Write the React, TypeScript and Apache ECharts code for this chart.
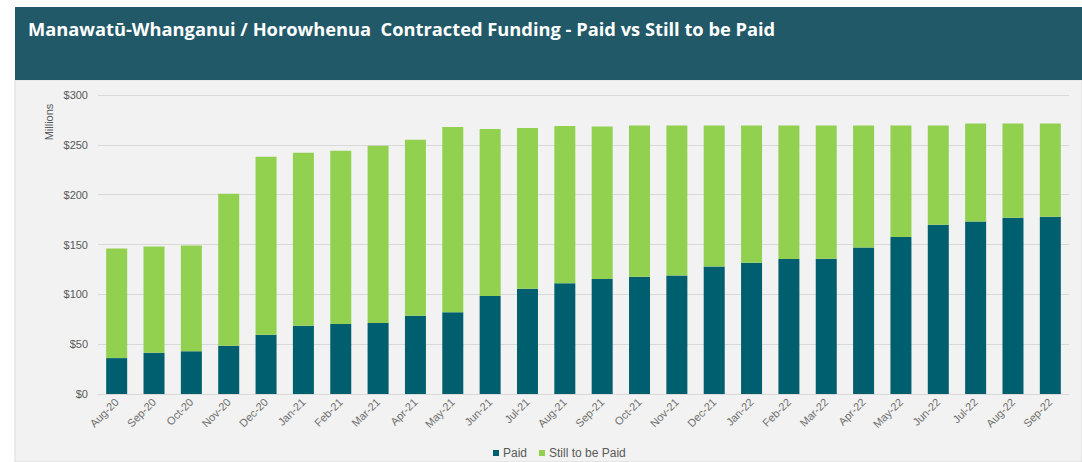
import React, { useEffect, useRef } from "react";
import * as echarts from "echarts";

const categories = [
  "Aug-20", "Sep-20", "Oct-20", "Nov-20", "Dec-20", "Jan-21", "Feb-21", "Mar-21", "Apr-21",
  "May-21", "Jun-21", "Jul-21", "Aug-21", "Sep-21", "Oct-21", "Nov-21", "Dec-21", "Jan-22",
  "Feb-22", "Mar-22", "Apr-22", "May-22", "Jun-22", "Jul-22", "Aug-22", "Sep-22",
];
const paid = [
  36, 41.4, 42.8, 48.5, 59.5, 68.5, 70.2, 71.2, 78.5, 81.9, 98.3, 105.6, 111,
  115.3, 117.7, 119, 128, 131.7, 135.4, 135.7, 147.1, 157.5, 169.8, 173.2, 176.8, 177.8,
];
const stillToBePaid = [
  110, 106.6, 106.2, 152.5, 178.5, 173.5, 173.8, 177.8, 176.5, 186.1, 167.7, 161.4, 158,
  153.2, 151.8, 150.5, 141.5, 137.8, 134.1, 133.8, 122.4, 112, 99.7, 98.3, 94.7, 93.7,
];
const yTicks = [0, 50, 100, 150, 200, 250, 300];

const title = "Manawatū-Whanganui / Horowhenua  Contracted Funding - Paid vs Still to be Paid";

export default function App() {
  const ref = useRef<HTMLDivElement>(null);
  useEffect(() => {
    if (!ref.current) return;
    const chart = echarts.init(ref.current, null, { renderer: "svg" });
    chart.setOption({
      animation: false,
      backgroundColor: "#ffffff",
      graphic: [
        { type: "rect", z: -10, shape: { x: 15, y: 80, width: 1067, height: 382 }, style: { fill: "#f2f2f2", stroke: "#d9d9d9", lineWidth: 1 } },
        { type: "rect", z: -9, shape: { x: 15, y: 7, width: 1067, height: 73 }, style: { fill: "#215968" } },
        {
          type: "text", x: 28, y: 28,
          style: { text: title, fill: "#ffffff", font: "bold 18.3px 'Open Sans', 'Noto Sans', sans-serif", verticalAlign: "middle", align: "left" },
        },
        {
          type: "text", x: 49, y: 122, rotation: Math.PI / 2,
          style: { text: "Millions", fill: "#595959", font: "11px 'Liberation Sans', Arial, sans-serif", align: "center", verticalAlign: "middle" },
        },
      ],
      grid: { left: 98, right: 13, top: 95, bottom: 68, containLabel: false },
      legend: {
        top: 442,
        left: 488,
        icon: "rect",
        itemWidth: 6,
        itemHeight: 6,
        itemGap: 12,
        textStyle: { color: "#595959", fontSize: 12, fontFamily: "'Liberation Sans', Arial, sans-serif", padding: [0, 0, 0, -1] },
        data: ["Paid", "Still to be Paid"],
      },
      xAxis: {
        type: "category",
        data: categories,
        axisTick: { show: false },
        axisLine: { lineStyle: { color: "#d9d9d9" } },
        axisLabel: { rotate: 45, color: "#6f6f6f", fontSize: 11, fontFamily: "'Liberation Sans', Arial, sans-serif", margin: 6, interval: 0 },
      },
      yAxis: {
        type: "value",
        min: yTicks[0],
        max: yTicks[yTicks.length - 1],
        interval: 50,
        axisLine: { show: false },
        axisTick: { show: false },
        splitLine: { lineStyle: { color: "#d9d9d9" } },
        axisLabel: { formatter: (v: number) => "$" + v, color: "#595959", fontSize: 11, fontFamily: "'Liberation Sans', Arial, sans-serif", margin: 10 },
      },
      series: [
        { name: "Paid", type: "bar", stack: "t", data: paid, barWidth: 21, itemStyle: { color: "#005f6e" } },
        { name: "Still to be Paid", type: "bar", stack: "t", data: stillToBePaid, barWidth: 21, itemStyle: { color: "#92d050" } },
      ],
    });
    return () => chart.dispose();
  }, []);
  return <div ref={ref} style={{ position: "fixed", left: 0, top: 0, width: 1082, height: 462 }} />;
}
